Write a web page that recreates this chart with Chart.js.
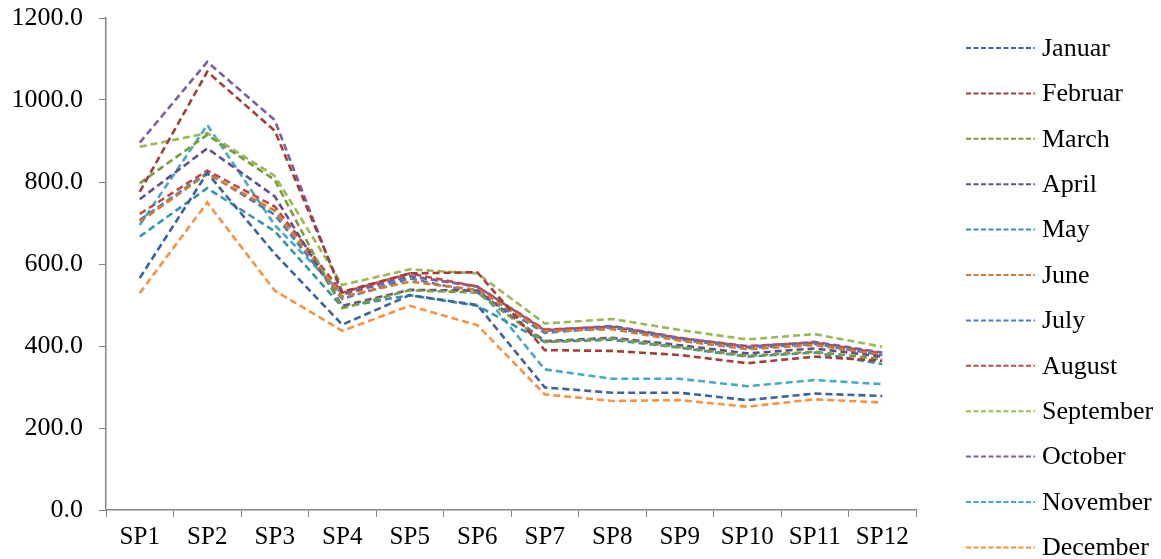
<!DOCTYPE html>
<html>
<head>
<meta charset="utf-8">
<script src="https://cdn.jsdelivr.net/npm/chart.js@4/dist/chart.umd.min.js"></script>
<style>
html,body{margin:0;padding:0;background:#fff;}
#wrap{width:1161px;height:559px;position:relative;}
</style>
</head>
<body>
<div id="wrap"><canvas id="c" width="1161" height="559"></canvas></div>
<script>
const categories = ['SP1','SP2','SP3','SP4','SP5','SP6','SP7','SP8','SP9','SP10','SP11','SP12'];
const seriesNames = ['Januar','Februar','March','April','May','June','July','August','September','October','November','December'];
const januar    = [566, 822, 625, 452, 524, 500, 299, 286, 286, 268, 284, 278];
const februar   = [776,1069, 925, 532, 577, 580, 390, 388, 378, 358, 374, 364];
const march     = [797, 915, 805, 492, 536, 530, 410, 418, 397, 376, 386, 368];
const april     = [758, 882, 765, 498, 537, 535, 412, 420, 402, 382, 394, 374];
const may       = [667, 785, 680, 495, 524, 498, 410, 415, 396, 374, 384, 356];
const june      = [703, 820, 730, 520, 557, 537, 436, 441, 413, 392, 402, 378];
const july      = [707, 823, 720, 515, 565, 530, 432, 445, 416, 395, 405, 378];
const august    = [722, 828, 740, 530, 577, 545, 440, 447, 419, 400, 408, 382];
const september = [886, 919, 815, 549, 587, 577, 455, 466, 439, 416, 429, 398];
const october   = [896,1093, 951, 525, 570, 545, 438, 449, 420, 398, 410, 384];
const november  = [695, 939, 695, 527, 571, 545, 343, 320, 320, 302, 317, 307];
const december  = [529, 750, 535, 437, 498, 451, 282, 266, 268, 252, 270, 262];
const yTicks = [0, 200, 400, 600, 800, 1000, 1200];

const seriesValues = [januar,februar,march,april,may,june,july,august,september,october,november,december];
const colors = ['#3b6499','#a33d3a','#7d9a3e','#664e89','#3a93a8','#d17a36','#4a7ebb','#be4b48','#98b954','#7d5fa0','#46aac5','#f69240'];

const FONT = '"Liberation Serif", "Times New Roman", serif';

const legendPlugin = {
  id: 'customLegend',
  afterDraw(chart) {
    const ctx = chart.ctx;
    ctx.save();
    chart.data.datasets.forEach((ds, i) => {
      const y = 48 + i * 45.4;
      ctx.strokeStyle = ds.borderColor;
      ctx.lineWidth = 2;
      ctx.setLineDash([5, 2.5]);
      ctx.beginPath();
      ctx.moveTo(966, y);
      ctx.lineTo(1035, y);
      ctx.stroke();
      ctx.setLineDash([]);
      ctx.fillStyle = '#000';
      ctx.font = '26px ' + FONT;
      ctx.textBaseline = 'middle';
      ctx.textAlign = 'left';
      ctx.fillText(ds.label, 1042, y + 1);
    });
    ctx.restore();
  }
};

new Chart(document.getElementById('c'), {
  type: 'line',
  data: {
    labels: categories,
    datasets: seriesNames.map((n, i) => ({
      label: n,
      data: seriesValues[i],
      borderColor: colors[i],
      backgroundColor: colors[i],
      borderWidth: 2.6,
      borderDash: [7, 4],
      pointRadius: 0,
      tension: 0,
      fill: false
    }))
  },
  options: {
    responsive: false,
    animation: false,
    devicePixelRatio: 1,
    layout: { padding: { left: 0, right: 245, top: 18, bottom: 0 } },
    plugins: { legend: { display: false }, tooltip: { enabled: false } },
    scales: {
      x: {
        offset: true,
        grid: { display: true, drawOnChartArea: false, drawTicks: true, tickLength: 7, color: '#868686', offset: true },
        border: { display: true, color: '#868686', width: 1.5 },
        ticks: { color: '#000', font: { family: FONT, size: 25 }, padding: 5, maxRotation: 0, autoSkip: false },
        afterFit(a) { a.height = 49; a.paddingLeft = 0; a.paddingRight = 0; }
      },
      y: {
        min: 0, max: 1200,
        afterBuildTicks(a) { a.ticks = yTicks.map(v => ({ value: v })); },
        grid: { display: true, drawOnChartArea: false, drawTicks: true, tickLength: 7, color: '#868686' },
        border: { display: true, color: '#868686', width: 1.5 },
        ticks: { color: '#000', font: { family: FONT, size: 26 }, padding: 16, callback: v => Number(v).toFixed(1) },
        afterFit(a) { a.width = 106; a.paddingTop = 0; a.paddingBottom = 0; }
      }
    }
  },
  plugins: [legendPlugin]
});
</script>
</body>
</html>
